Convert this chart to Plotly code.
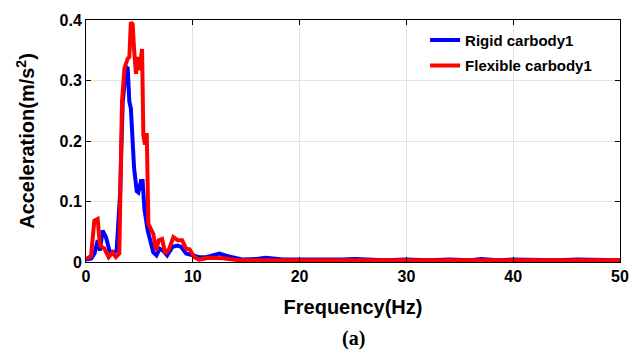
import plotly.graph_objects as go

# Rigid carbody1 (blue)
rigid_freq = [0, 0.5, 0.8, 1.1, 1.3, 1.56, 1.87, 2.19, 2.5, 2.87, 3.19, 3.44, 3.75, 3.9,
              4.06, 4.2, 4.5, 4.75, 4.9, 5.15, 5.3, 5.47, 5.78, 6.0, 6.3, 6.6, 6.9, 7.2,
              7.6, 8.1, 8.6, 8.9, 9.37, 10.0, 10.6, 11.25, 12.5, 13.4, 14.7, 16.0, 16.8,
              17.5, 18.4, 19.9, 21, 22.5, 24, 25.2, 26.5, 28, 30, 32, 34, 36, 37, 38.5,
              40, 42, 44, 46, 48, 50]
rigid_acc = [0.004, 0.006, 0.014, 0.036, 0.019, 0.052, 0.041, 0.019, 0.014, 0.019, 0.112,
             0.265, 0.320, 0.322, 0.265, 0.254, 0.156, 0.117, 0.115, 0.134, 0.134, 0.087,
             0.052, 0.036, 0.016, 0.011, 0.022, 0.019, 0.011, 0.025, 0.027, 0.025, 0.014,
             0.011, 0.008, 0.008, 0.014, 0.009, 0.004, 0.005, 0.007, 0.006, 0.004, 0.004,
             0.004, 0.003, 0.004, 0.005, 0.004, 0.003, 0.004, 0.003, 0.004, 0.003, 0.005,
             0.003, 0.004, 0.003, 0.003, 0.004, 0.003, 0.003]

# Flexible carbody1 (red)
flex_freq = [0, 0.47, 0.78, 1.09, 1.31, 1.72, 2.12, 2.5, 2.8, 3.12, 3.37, 3.6, 3.9, 4.06,
             4.2, 4.37, 4.5, 4.68, 4.84, 5.0, 5.25, 5.37, 5.53, 5.69, 5.84, 6.09, 6.31,
             6.56, 6.81, 7.12, 7.43, 7.8, 8.18, 8.59, 9.0, 9.37, 9.7, 10.15, 10.6, 11.5,
             12.8, 14.3, 15.9, 18, 20, 25, 30, 35, 40, 45, 50]
flex_acc = [0.005, 0.010, 0.068, 0.071, 0.027, 0.022, 0.008, 0.016, 0.008, 0.014, 0.265,
            0.320, 0.336, 0.339, 0.396, 0.393, 0.352, 0.311, 0.339, 0.317, 0.352, 0.210,
            0.194, 0.213, 0.063, 0.052, 0.046, 0.019, 0.036, 0.038, 0.014, 0.022, 0.041,
            0.036, 0.036, 0.022, 0.021, 0.008, 0.004, 0.007, 0.006, 0.003, 0.003, 0.003,
            0.003, 0.003, 0.003, 0.003, 0.003, 0.003, 0.003]

x_ticks = [0, 10, 20, 30, 40, 50]
y_ticks = [0, 0.1, 0.2, 0.3, 0.4]
y_tick_labels = ["0", "0.1", "0.2", "0.3", "0.4"]

FONT = "Liberation Sans, Arial, sans-serif"

fig = go.Figure()
fig.add_trace(go.Scatter(x=rigid_freq, y=rigid_acc, mode="lines", name="Rigid carbody1",
                         legendgroup="g1",
                         line=dict(color="#0000FF", width=4)))
fig.add_trace(go.Scatter(x=flex_freq, y=flex_acc, mode="lines", name="Flexible carbody1",
                         legendgroup="g2",
                         line=dict(color="#FF0000", width=4)))

axis_common = dict(showline=True, linecolor="black", linewidth=1, mirror="ticks",
                   ticks="inside", ticklen=5, tickcolor="black",
                   showgrid=True, gridcolor="#e3e3e3", gridwidth=1, zeroline=False,
                   tickfont=dict(family=FONT, size=16, color="black", weight="bold"))

fig.update_xaxes(range=[0, 50], tickvals=x_ticks, ticktext=[str(v) for v in x_ticks],
                 title=dict(text="<b>Frequency(Hz)</b>", font=dict(family=FONT, size=20, color="black"),
                            standoff=15),
                 **axis_common)
fig.update_yaxes(range=[0, 0.4], tickvals=y_ticks, ticktext=y_tick_labels,
                 title=dict(text="<b>Acceleration(m/s<sup>2</sup>)</b>",
                            font=dict(family=FONT, size=20, color="black"), standoff=19),
                 **axis_common)

fig.add_annotation(text="<b>(a)</b>", xref="paper", yref="paper", x=0.5, y=-0.315,
                   xanchor="center", yanchor="middle", showarrow=False,
                   font=dict(family="Liberation Serif, Times New Roman, serif", size=20, color="black"))

fig.update_layout(
    width=641, height=356,
    margin=dict(l=86, r=20, t=18, b=94),
    paper_bgcolor="white", plot_bgcolor="white",
    legend=dict(x=0.635, y=0.985, xanchor="left", yanchor="top", bgcolor="rgba(0,0,0,0)",
                borderwidth=0, font=dict(family=FONT, size=15, color="black", weight="bold"),
                traceorder="grouped", tracegroupgap=3),
)

fig.write_html("out.html", config={"displayModeBar": False},
               post_script="document.body.style.margin='0px';")
